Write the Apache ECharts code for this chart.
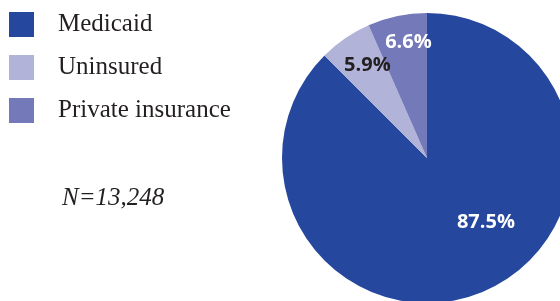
<!DOCTYPE html>
<html>
<head>
<meta charset="utf-8">
<script src="https://cdn.jsdelivr.net/npm/echarts@6/dist/echarts.min.js"></script>
<style>
html,body{margin:0;padding:0;background:#fff;}
#chart{width:560px;height:301px;}
</style>
</head>
<body>
<div id="chart"></div>
<script>
var categories = ['Medicaid', 'Uninsured', 'Private insurance'];
var values = [87.5, 5.9, 6.6];
var colors = ['#25489e', '#b1b3d9', '#7479b9'];
var labelColors = ['#ffffff', '#231f20', '#ffffff'];
var labelOffsets = [[30, -5], [-17, -30], [-3, -42]];
var note = 'N=13,248';

var data = categories.map(function (c, i) {
  return {
    name: c,
    value: values[i],
    itemStyle: { color: colors[i] },
    label: { color: labelColors[i], offset: labelOffsets[i] }
  };
});

var chart = echarts.init(document.getElementById('chart'), null, { renderer: 'canvas' });
chart.setOption({
  animation: false,
  backgroundColor: '#ffffff',
  legend: {
    orient: 'vertical',
    left: 9,
    top: 12,
    padding: 0,
    itemWidth: 25,
    itemHeight: 25,
    itemGap: 18,
    icon: 'rect',
    selectedMode: false,
    data: categories,
    textStyle: {
      fontFamily: 'Liberation Serif',
      fontSize: 25,
      color: '#231f20',
      padding: [0, 0, 0, 19]
    }
  },
  graphic: [{
    type: 'text',
    left: 62,
    top: 186,
    style: {
      text: note,
      fontFamily: 'Liberation Serif',
      fontStyle: 'italic',
      fontSize: 25,
      fill: '#231f20'
    }
  }],
  series: [{
    type: 'pie',
    center: [427, 158],
    radius: [0, 145],
    startAngle: 90,
    clockwise: true,
    silent: true,
    data: data,
    label: {
      show: true,
      position: 'inside',
      formatter: function (p) { return p.value.toFixed(1) + '%'; },
      fontFamily: 'Open Sans',
      fontWeight: 'bold',
      fontSize: 20
    },
    labelLine: { show: false },
    itemStyle: { borderWidth: 0 }
  }]
});
</script>
</body>
</html>
